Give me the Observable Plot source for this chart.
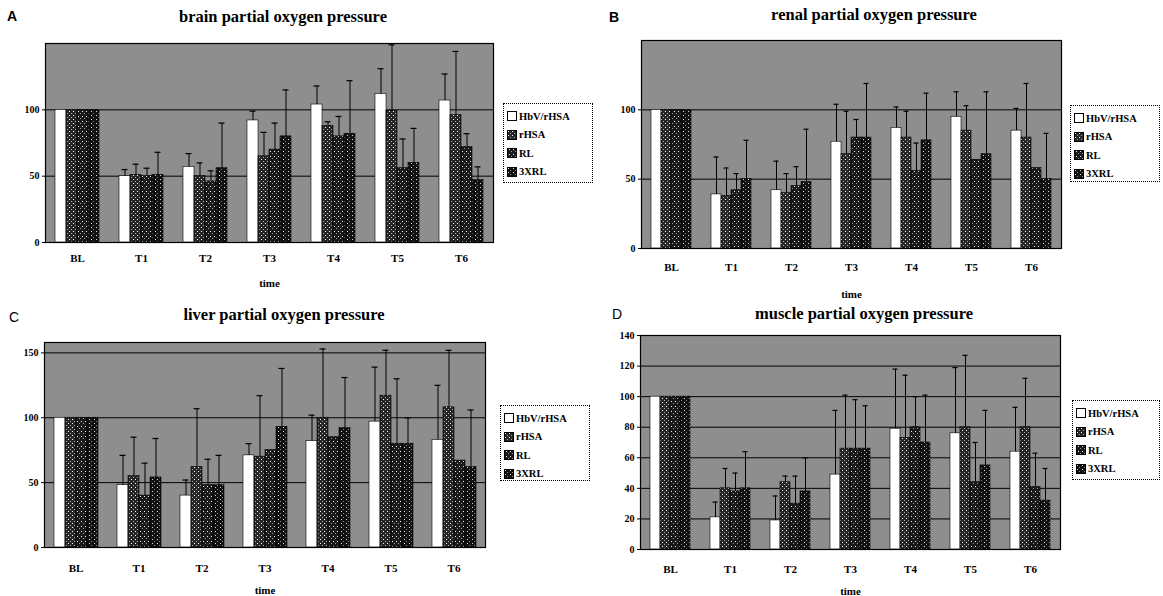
<!DOCTYPE html>
<html><head><meta charset="utf-8">
<script src="https://cdn.jsdelivr.net/npm/d3@7"></script>
<script src="https://cdn.jsdelivr.net/npm/@observablehq/plot@0.6"></script>
<style>
body{margin:0;background:#fff;}
#root{position:relative;width:1163px;height:596px;overflow:hidden;font-family:"Liberation Serif",serif;color:#000;}
.title{position:absolute;font-weight:bold;font-size:16.5px;transform:translate(-50%,-50%);white-space:nowrap;}
.letter{position:absolute;font-family:"Liberation Sans",sans-serif;font-size:14px;transform:translate(-50%,-50%);}
.plot{position:absolute;}
.plot svg text{font-family:"Liberation Serif",serif;}
.legend{position:absolute;border:1.5px dotted #000;box-sizing:border-box;padding:3px 0 0 3px;font-weight:bold;font-size:10.5px;background:#fff;}
.legend .item{display:flex;align-items:center;height:18.5px;white-space:nowrap;}
.legend svg{margin-right:2px;}
</style></head><body>
<svg width="0" height="0" style="position:absolute"><defs>
<pattern id="pBg" width="2" height="2" patternUnits="userSpaceOnUse">
<rect width="2" height="2" fill="#e2e2e2"/><rect x="0" y="0" width="1" height="1" fill="#3a3a3a"/><rect x="1" y="1" width="1" height="1" fill="#3a3a3a"/>
</pattern>
<pattern id="pR" width="4" height="4" patternUnits="userSpaceOnUse">
<rect width="4" height="4" fill="#262626"/><rect x="1" y="1" width="1" height="1" fill="#fff"/><rect x="3" y="3" width="1" height="1" fill="#aaa"/>
</pattern>
<pattern id="pL" width="4" height="5" patternUnits="userSpaceOnUse">
<rect width="4" height="5" fill="#1a1a1a"/><rect x="2" y="1" width="1" height="1" fill="#eee"/><rect x="0" y="3" width="1" height="1" fill="#999"/>
</pattern>
<pattern id="pX" width="5" height="4" patternUnits="userSpaceOnUse">
<rect width="5" height="4" fill="#111"/><rect x="1" y="1" width="1" height="1" fill="#ddd"/><rect x="3" y="3" width="1" height="1" fill="#888"/>
</pattern>
</defs></svg>
<div id="root"></div>
<script>
// ---------- data ----------
const times = ["BL", "T1", "T2", "T3", "T4", "T5", "T6"];
const seriesNames = ["HbV/rHSA", "rHSA", "RL", "3XRL"];

// A: brain
const brainHbV    = [100, 50, 57, 92, 104, 112, 107];
const brainHbVSd  = [0, 5, 10, 7, 14, 19, 20];
const brainRHSA   = [100, 51, 50, 65, 88, 99, 96];
const brainRHSASd = [0, 8, 10, 18, 3, 50, 48];
const brainRL     = [100, 50, 46, 70, 80, 56, 72];
const brainRLSd   = [0, 6, 8, 20, 15, 22, 10];
const brain3XRL   = [100, 51, 56, 80, 82, 60, 47];
const brain3XRLSd = [0, 17, 34, 35, 40, 26, 10];

// B: renal
const renalHbV    = [100, 39, 42, 77, 87, 95, 85];
const renalHbVSd  = [0, 27, 21, 27, 15, 18, 16];
const renalRHSA   = [100, 38, 40, 68, 80, 85, 80];
const renalRHSASd = [0, 20, 14, 31, 19, 18, 39];
const renalRL     = [100, 42, 45, 80, 56, 64, 58];
const renalRLSd   = [0, 12, 14, 13, 20, 0, 0];
const renal3XRL   = [100, 50, 48, 80, 78, 68, 50];
const renal3XRLSd = [0, 28, 38, 39, 34, 45, 33];

// C: liver
const liverHbV    = [100, 48, 40, 71, 82, 97, 83];
const liverHbVSd  = [0, 23, 12, 9, 20, 42, 42];
const liverRHSA   = [100, 55, 62, 70, 100, 117, 108];
const liverRHSASd = [0, 30, 45, 47, 53, 35, 44];
const liverRL     = [100, 40, 48, 75, 85, 80, 67];
const liverRLSd   = [0, 25, 20, 0, 0, 50, 0];
const liver3XRL   = [100, 54, 48, 93, 92, 80, 62];
const liver3XRLSd = [0, 30, 23, 45, 39, 20, 44];

// D: muscle
const muscleHbV    = [100, 21, 19, 49, 79, 76, 64];
const muscleHbVSd  = [0, 10, 16, 42, 39, 43, 29];
const muscleRHSA   = [100, 40, 44, 66, 73, 80, 80];
const muscleRHSASd = [0, 13, 4, 35, 41, 47, 32];
const muscleRL     = [100, 38, 30, 66, 80, 44, 41];
const muscleRLSd   = [0, 12, 18, 32, 20, 26, 22];
const muscle3XRL   = [100, 40, 38, 66, 70, 55, 32];
const muscle3XRLSd = [0, 24, 22, 28, 31, 36, 21];

const titles = ["brain partial oxygen pressure", "renal partial oxygen pressure",
                "liver partial oxygen pressure", "muscle partial oxygen pressure"];
const letters = ["A", "B", "C", "D"];
const yTicksA = [0, 50, 100];
const yTicksB = [0, 50, 100];
const yTicksC = [0, 50, 100, 150];
const yTicksD = [0, 20, 40, 60, 80, 100, 120, 140];

// ---------- style / layout ----------
const seriesFills = ["#ffffff", "url(#pR)", "url(#pL)", "url(#pX)"];
const serif = '"Liberation Serif", serif';
const panels = [
  {means: [brainHbV, brainRHSA, brainRL, brain3XRL], sds: [brainHbVSd, brainRHSASd, brainRLSd, brain3XRLSd],
   ticks: yTicksA, max: 150, left: 0, top: 30, width: 500, height: 268, mL: 45, mR: 7, mT: 13, mB: 56, tp: 12, lo: 44,
   title: [283, 17], letter: [12, 16], letterBold: true, legend: [503, 103, 90, 80]},
  {means: [renalHbV, renalRHSA, renalRL, renal3XRL], sds: [renalHbVSd, renalRHSASd, renalRLSd, renal3XRLSd],
   ticks: yTicksB, max: 150, left: 590, top: 30, width: 480, height: 274, mL: 49, mR: 8, mT: 10, mB: 56, tp: 15, lo: 49,
   title: [874, 15], letter: [614, 17], letterBold: true, legend: [1070, 105, 90, 77]},
  {means: [liverHbV, liverRHSA, liverRL, liver3XRL], sds: [liverHbVSd, liverRHSASd, liverRLSd, liver3XRLSd],
   ticks: yTicksC, max: 158, left: 0, top: 330, width: 496, height: 266, mL: 41, mR: 8, mT: 12, mB: 49, tp: 17, lo: 46,
   title: [284, 315], letter: [14, 317], letterBold: false, legend: [500, 405, 90, 76]},
  {means: [muscleHbV, muscleRHSA, muscleRL, muscle3XRL], sds: [muscleHbVSd, muscleRHSASd, muscleRLSd, muscle3XRLSd],
   ticks: yTicksD, max: 140, left: 590, top: 325, width: 480, height: 271, mL: 47, mR: 8, mT: 10, mB: 47, tp: 16, lo: 45,
   title: [864, 314], letter: [617, 314], letterBold: false, legend: [1072, 400, 88, 80]}
];

const root = document.getElementById("root");

panels.forEach((p, k) => {
  const rows = [];
  times.forEach((t, i) => seriesNames.forEach((s, j) =>
    rows.push({time: t, series: s, value: p.means[j][i], sd: p.sds[j][i]})));
  const errRows = rows.filter(d => d.sd > 0);
  const grid = p.ticks.filter(v => v > 0 && v < p.max);

  const chart = Plot.plot({
    width: p.width, height: p.height,
    marginLeft: p.mL, marginRight: p.mR, marginTop: p.mT, marginBottom: p.mB,
    style: {background: "none", fontFamily: serif, fontWeight: "bold", fontSize: "11px", color: "#000", overflow: "visible"},
    fx: {domain: times, padding: 0},
    x: {domain: seriesNames, paddingInner: 0, paddingOuter: 0.78, axis: null},
    y: {domain: [0, p.max], axis: null},
    color: {type: "ordinal", domain: seriesNames, range: seriesFills},
    marks: [
      Plot.frame({facet: "super", fill: "url(#pBg)"}),
      Plot.ruleY(grid, {stroke: "#000", strokeWidth: 1}),
      Plot.barY(rows, {fx: "time", x: "series", y: "value", fill: "series", stroke: "#000", strokeWidth: 0.6}),
      Plot.ruleX(errRows, {fx: "time", x: "series", y1: "value", y2: d => d.value + d.sd, stroke: "#000", strokeWidth: 1}),
      Plot.tickY(errRows, {fx: "time", x: "series", y: d => d.value + d.sd, stroke: "#000", strokeWidth: 1.2, insetLeft: 2.5, insetRight: 2.5}),
      Plot.frame({facet: "super", stroke: "#000", strokeWidth: 1.2}),
      Plot.axisY({ticks: p.ticks, tickSize: 3, tickPadding: 3, fontSize: 10, fontWeight: "bold", fontFamily: serif, label: null}),
      Plot.axisFx({anchor: "bottom", tickSize: 0, tickPadding: p.tp, fontSize: 11, fontWeight: "bold", fontFamily: serif,
                   label: "time", labelAnchor: "center", labelOffset: p.lo})
    ]
  });
  const wrap = document.createElement("div");
  wrap.className = "plot";
  wrap.style.left = p.left + "px";
  wrap.style.top = p.top + "px";
  wrap.appendChild(chart);
  root.appendChild(wrap);

  const title = document.createElement("div");
  title.className = "title";
  title.style.left = p.title[0] + "px";
  title.style.top = p.title[1] + "px";
  title.textContent = titles[k];
  root.appendChild(title);

  const letter = document.createElement("div");
  letter.className = "letter";
  letter.style.left = p.letter[0] + "px";
  letter.style.top = p.letter[1] + "px";
  letter.style.fontWeight = p.letterBold ? "bold" : "normal";
  letter.textContent = letters[k];
  root.appendChild(letter);

  const lg = document.createElement("div");
  lg.className = "legend";
  lg.style.left = p.legend[0] + "px";
  lg.style.top = p.legend[1] + "px";
  lg.style.width = p.legend[2] + "px";
  lg.style.height = p.legend[3] + "px";
  seriesNames.forEach((s, j) => {
    const item = document.createElement("div");
    item.className = "item";
    item.innerHTML = `<svg width="10" height="10"><rect x="0.5" y="0.5" width="9" height="9" fill="${seriesFills[j]}" stroke="#000"/></svg>`;
    const span = document.createElement("span");
    span.textContent = s;
    item.appendChild(span);
    lg.appendChild(item);
  });
  root.appendChild(lg);
});
</script>
</body></html>
